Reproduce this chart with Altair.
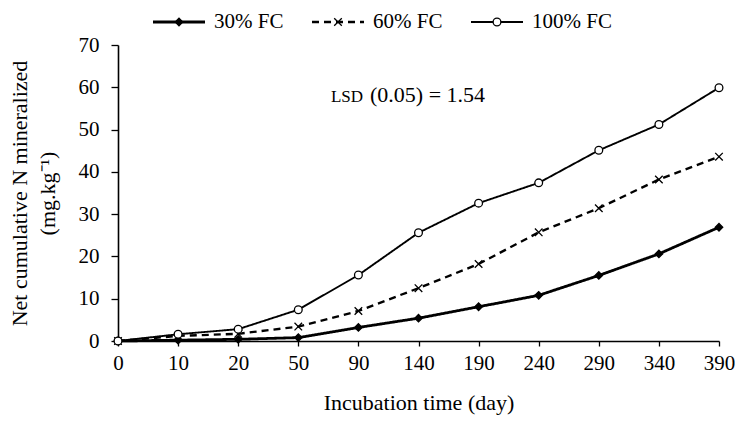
import altair as alt
import pandas as pd

days = ["0", "10", "20", "50", "90", "140", "190", "240", "290", "340", "390"]
series = ["30% FC", "60% FC", "100% FC"]
fc30 = [0, 0.2, 0.4, 0.8, 3.2, 5.4, 8.1, 10.8, 15.5, 20.6, 26.9]
fc60 = [0, 1.2, 1.7, 3.4, 7.1, 12.5, 18.2, 25.7, 31.4, 38.2, 43.6]
fc100 = [0, 1.6, 2.8, 7.4, 15.6, 25.6, 32.6, 37.4, 45.1, 51.2, 59.9]
yticks = [0, 10, 20, 30, 40, 50, 60, 70]
lsd_label = "LSD"
lsd_value = "(0.05) = 1.54"

rows = []
for name, vals in zip(series, [fc30, fc60, fc100]):
    for d, v in zip(days, vals):
        rows.append({"day": d, "value": v, "series": name})
df = pd.DataFrame(rows)
leg = pd.DataFrame({"series": series})

FONT = "Liberation Serif"
shape_path_x = "M-1,-1L1,1M-1,1L1,-1"
shape_scale = alt.Scale(domain=series, range=["diamond", shape_path_x, "circle"])
fill_scale = alt.Scale(domain=series, range=["black", "transparent", "white"])
dash_scale = alt.Scale(domain=series, range=[[1, 0], [7, 5], [1, 0]])
width_scale = alt.Scale(domain=series, range=[2.8, 1.9, 1.2])
size_scale = alt.Scale(domain=series, range=[55, 60, 65])

x_enc = alt.X("day:N", sort=days, scale=alt.Scale(type="point", padding=0),
              axis=alt.Axis(title="Incubation time (day)", labelAngle=0,
                            titlePadding=19, tickSize=5, labelPadding=6))
y_enc = alt.Y("value:Q", scale=alt.Scale(domain=[0, 70]),
              axis=alt.Axis(values=yticks, title=["Net cumulative N mineralized", "(mg.kg\u207b\u00b9)"],
                            grid=False, tickSize=7, labelPadding=12, titlePadding=19,
                            titleLineHeight=28))

base = alt.Chart(df)
lines = base.mark_line(color="black").encode(
    x=x_enc, y=y_enc,
    detail="series:N",
    strokeDash=alt.StrokeDash("series:N", scale=dash_scale, legend=None),
    strokeWidth=alt.StrokeWidth("series:N", scale=width_scale, legend=None),
)
points = base.mark_point(stroke="black", strokeWidth=1.3, opacity=1).encode(
    x=x_enc, y=y_enc,
    shape=alt.Shape("series:N", scale=shape_scale, legend=None),
    fill=alt.Fill("series:N", scale=fill_scale, legend=None),
    size=alt.Size("series:N", scale=size_scale, legend=None),
)

lsd1 = alt.Chart(pd.DataFrame({"t": [lsd_label]})).mark_text(
    font=FONT, fontSize=17, align="right", baseline="alphabetic", color="black"
).encode(text="t:N", x=alt.value(245), y=alt.value(57))
lsd2 = alt.Chart(pd.DataFrame({"t": [lsd_value]})).mark_text(
    font=FONT, fontSize=22, align="left", baseline="alphabetic", color="black"
).encode(text="t:N", x=alt.value(252), y=alt.value(57))

main = alt.layer(lines, points, lsd1, lsd2)

leg_x = alt.X("series:N", sort=series,
              scale=alt.Scale(type="point", domain=series, range=[61, 379], padding=0), axis=None)
leg_rule = alt.Chart(leg).mark_rule(color="black", xOffset=-26, x2Offset=26).encode(
    x=leg_x, x2=alt.X2("series:N"), y=alt.value(-23),
    strokeDash=alt.StrokeDash("series:N", scale=dash_scale, legend=None),
    strokeWidth=alt.StrokeWidth("series:N", scale=width_scale, legend=None),
)
leg_pt = alt.Chart(leg).mark_point(stroke="black", strokeWidth=1.3, opacity=1).encode(
    x=leg_x, y=alt.value(-23),
    shape=alt.Shape("series:N", scale=shape_scale, legend=None),
    fill=alt.Fill("series:N", scale=fill_scale, legend=None),
    size=alt.Size("series:N", scale=size_scale, legend=None),
)
leg_txt = alt.Chart(leg).mark_text(font=FONT, fontSize=21, align="left", baseline="middle",
                                   dx=35, color="black").encode(
    x=leg_x, y=alt.value(-23), text="series:N")
legend_layer = alt.layer(leg_rule, leg_pt, leg_txt)

chart = alt.layer(main, legend_layer).resolve_scale(
    x="independent"
).properties(
    width=601, height=296,
    autosize=alt.AutoSizeParams(type="none"),
    padding={"left": 110, "top": 37, "right": 16, "bottom": 75},
    background="white",
).configure_view(stroke=None).configure_axis(
    labelFont=FONT, titleFont=FONT, labelFontSize=21, titleFontSize=22,
    titleFontWeight="normal", labelColor="black", titleColor="black",
    domainColor="black", tickColor="black", domainWidth=1.6, tickWidth=1.3,
)

chart.save("out.html", embed_options={"renderer": "svg", "actions": False})
